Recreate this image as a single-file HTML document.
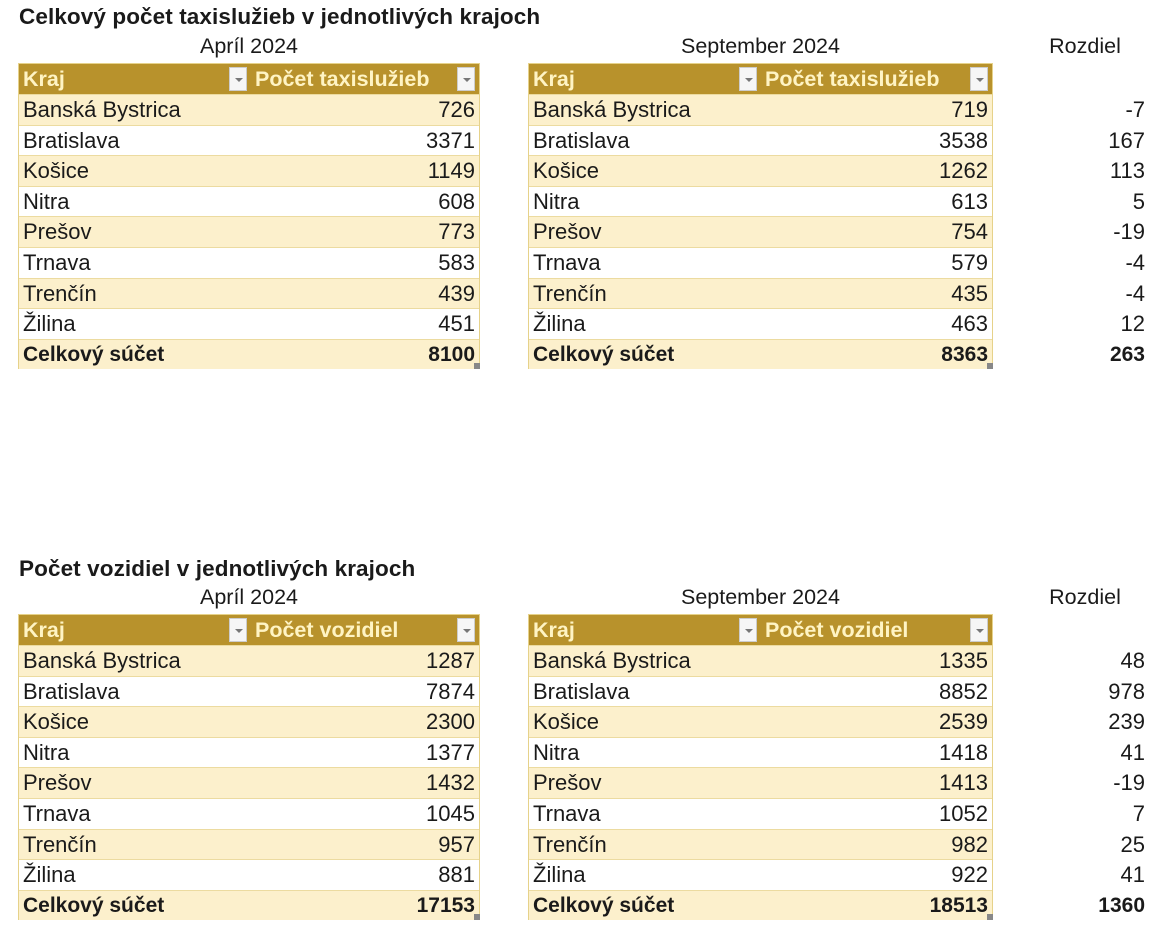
<!DOCTYPE html>
<html><head><meta charset="utf-8">
<style>
body{margin:0;width:1170px;height:946px;background:#fff;position:relative;overflow:hidden;font-family:"Liberation Sans",Arial,sans-serif;color:#1a1a1a}
.t{position:absolute;font-weight:bold;font-size:22.5px;white-space:nowrap;letter-spacing:0.1px}
.sub{position:absolute;font-size:21.5px;text-align:center;white-space:nowrap}
.tbl{position:absolute;border:1px solid #e6d28a;box-sizing:border-box}
.row{position:absolute;left:0;right:0;height:30.6px;border-top:1px solid #ecdba0;box-sizing:border-box;font-size:22px;line-height:29px}
.row.odd{background:#fcf0cc}
.row.tot{background:#fcf0cc;font-weight:bold;font-size:21px}
.hdr{position:absolute;left:0;right:0;top:0;height:30px;background:#b8922c;color:#fff4c4;font-weight:bold;font-size:21.5px;line-height:30px}
.c1{position:absolute;left:4px}
.c2{position:absolute;right:4px}
.btn{position:absolute;top:3px;width:18px;height:24px;background:#f6f6f6;border:1px solid #ccc;box-sizing:border-box}
.btn:after{content:"";position:absolute;left:5px;top:10px;border-left:4px solid transparent;border-right:4px solid transparent;border-top:4px solid #777}
.rz{position:absolute;font-size:22px;text-align:right;width:100px;left:1045px;line-height:29px}
.rz.b{font-weight:bold;font-size:21px}
.corner{position:absolute;right:-1px;bottom:-1px;width:6px;height:6px;background:#888}
</style></head>
<body>
<div class="t" style="left:19px;top:4px">Celkový počet taxislužieb v jednotlivých krajoch</div>
<div class="t" style="left:19px;top:556px">Počet vozidiel v jednotlivých krajoch</div>
<div id="root"></div>
<script>
const regions=["Banská Bystrica","Bratislava","Košice","Nitra","Prešov","Trnava","Trenčín","Žilina"];
const taxiApr=[726,3371,1149,608,773,583,439,451];
const taxiSep=[719,3538,1262,613,754,579,435,463];
const vehApr=[1287,7874,2300,1377,1432,1045,957,881];
const vehSep=[1335,8852,2539,1418,1413,1052,982,922];
const totalLabel="Celkový súčet";
const sections=[
 {top:63,label:"Počet taxislužieb",a:taxiApr,b:taxiSep,key:"taxi"},
 {top:614,label:"Počet vozidiel",a:vehApr,b:vehSep,key:"vehicles"}
];
const root=document.getElementById('root');
const RH=30.6;
function mk(cls,parent){const d=document.createElement('div');d.className=cls;parent.appendChild(d);return d;}
function table(left,width,top,label,vals,name){
 const t=mk('tbl',document.body);
 
 
 t.style.left=left+'px';t.style.top=top+'px';t.style.width=width+'px';t.style.height=(RH*10)+'px';
 const h=mk('hdr',t);
 
 
 const k=mk('c1',h);k.textContent='Kraj';
 const b1=mk('btn',h);b1.style.left='210px';
 
 
 const l2=mk('c1',h);l2.style.left='236px';l2.textContent=label;
 const b2=mk('btn',h);b2.style.right='4px';
 
 
 let sum=0;
 vals.forEach((v,i)=>{sum+=v;
  const r=mk('row'+(i%2==0?' odd':''),t);r.style.top=(30+i*RH)+'px';
  
  
  mk('c1',r).textContent=regions[i];mk('c2',r).textContent=v;});
 const r=mk('row tot',t);r.style.top=(30+8*RH)+'px';
 
 
 mk('c1',r).textContent=totalLabel;mk('c2',r).textContent=sum;
 mk('corner',t);
 return sum;
}
sections.forEach(s=>{
 const s1=mk('sub',document.body);s1.style.left='18px';s1.style.width='462px';s1.style.top=(s.top-29)+'px';s1.textContent='Apríl 2024';
 
 
 const s2=mk('sub',document.body);s2.style.left='528px';s2.style.width='465px';s2.style.top=(s.top-29)+'px';s2.textContent='September 2024';
 
 
 const s3=mk('sub',document.body);s3.style.left='1025px';s3.style.width='120px';s3.style.top=(s.top-29)+'px';s3.textContent='Rozdiel';
 
 
 const sa=table(18,462,s.top,s.label,s.a,s.key+'-april-table');
 const sb=table(528,465,s.top,s.label,s.b,s.key+'-september-table');
 s.a.forEach((v,i)=>{const d=mk('rz',document.body);d.style.top=(s.top+32+i*RH)+'px';d.textContent=s.b[i]-v;
  
  });
 const d=mk('rz b',document.body);d.style.top=(s.top+32+8*RH)+'px';d.textContent=sb-sa;
 
 
});
</script>
</body></html>
